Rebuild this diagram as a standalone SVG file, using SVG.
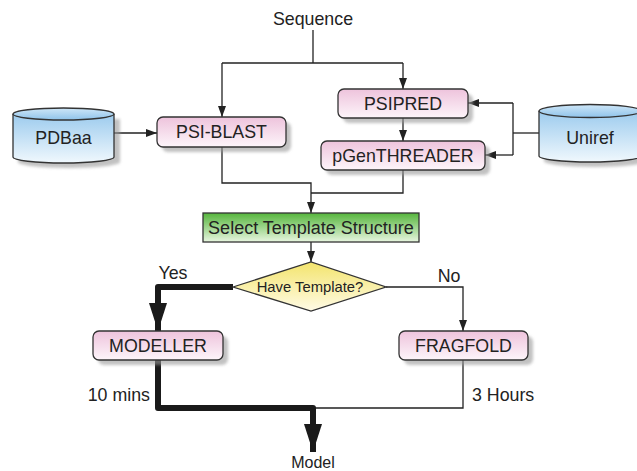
<svg xmlns="http://www.w3.org/2000/svg" width="637" height="471" viewBox="0 0 637 471">
<defs>
<linearGradient id="pink" x1="0" y1="0" x2="0" y2="1"><stop offset="0" stop-color="#eec3dc"/><stop offset="1" stop-color="#fdf5fa"/></linearGradient>
<linearGradient id="green" x1="0" y1="0" x2="0" y2="1"><stop offset="0" stop-color="#55b53c"/><stop offset="1" stop-color="#e8f6e0"/></linearGradient>
<linearGradient id="yellow" x1="0" y1="0" x2="0" y2="1"><stop offset="0" stop-color="#f3e46c"/><stop offset="1" stop-color="#fffbe6"/></linearGradient>
<linearGradient id="blue" x1="0" y1="0" x2="0" y2="1"><stop offset="0" stop-color="#9ccbee"/><stop offset="1" stop-color="#f0f8fd"/></linearGradient>
<linearGradient id="bluetop" x1="0" y1="0" x2="0" y2="1"><stop offset="0" stop-color="#cfe7f8"/><stop offset="1" stop-color="#8fc3ea"/></linearGradient>
<filter id="blur" x="-10%" y="-20%" width="120%" height="140%"><feGaussianBlur stdDeviation="1.5"/></filter>
<marker id="arr" viewBox="0 0 11 8" refX="11" refY="4" markerWidth="11" markerHeight="8" markerUnits="userSpaceOnUse" orient="auto"><path d="M0,0 L11,4 L0,8 z" fill="#222"/></marker>
<marker id="big" viewBox="0 0 28 18" refX="28" refY="9" markerWidth="28" markerHeight="18" markerUnits="userSpaceOnUse" orient="auto"><path d="M0,0 L28,9 L0,18 z" fill="#1a1a1a"/></marker>
</defs>
<style>
text{font-family:"Liberation Sans",Arial,sans-serif;fill:#222;text-anchor:middle}
.lbl{font-size:17.8px}
.box{fill:url(#pink);stroke:#333;stroke-width:1.3}
.shadow{fill:#999;opacity:0.6;filter:url(#blur)}
.cyl{fill:url(#blue);stroke:#333;stroke-width:1.3}
.cyltop{fill:url(#bluetop);stroke:#333;stroke-width:1.3}
.thin{fill:none;stroke:#222;stroke-width:1.3}
.thick{fill:none;stroke:#1a1a1a;stroke-width:6;stroke-linejoin:round}
</style>
<g id="connectors">
<path class="thin" d="M313,30 V63"/>
<path class="thin" d="M222,63 H403"/>
<path class="thin" d="M222,63 V117" marker-end="url(#arr)"/>
<path class="thin" d="M403,63 V89" marker-end="url(#arr)"/>
<path class="thin" d="M114,133 H157" marker-end="url(#arr)"/>
<path class="thin" d="M403,118 V141" marker-end="url(#arr)"/>
<path class="thin" d="M539,133 H513"/>
<path class="thin" d="M513,103 V155"/>
<path class="thin" d="M513,103 H468" marker-end="url(#arr)"/>
<path class="thin" d="M513,155 H485" marker-end="url(#arr)"/>
<path class="thin" d="M222,147 V183 H311 V213" marker-end="url(#arr)"/>
<path class="thin" d="M403,170 V193 H311"/>
<path class="thin" d="M311,242 V262" marker-end="url(#arr)"/>
<path class="thin" d="M386,287 H463 V331" marker-end="url(#arr)"/>
<path class="thin" d="M463,360 V408 H313"/>
<path class="thick" d="M233,287 H158 V331" marker-end="url(#big)"/>
<path class="thick" d="M158,360 V408 H313 V452" marker-end="url(#big)"/>
<text class="lbl" x="173" y="279">Yes</text>
<text class="lbl" x="449" y="282">No</text>
<text class="lbl" x="150" y="401" style="text-anchor:end">10 mins</text>
<text class="lbl" x="472" y="401" style="text-anchor:start">3 Hours</text>
</g>
<g id="sequence"><text class="lbl" x="313" y="25">Sequence</text></g>
<g id="pdbaa">
<path class="shadow" d="M18,119 V162 A51,6 0 0 0 120,162 V119 z"/>
<path class="cyl" d="M13,114 V157 A50.5,6 0 0 0 114,157 V114"/>
<ellipse class="cyltop" cx="63.5" cy="114" rx="50.5" ry="6"/>
<text class="lbl" x="63.5" y="144">PDBaa</text>
</g>
<g id="uniref">
<path class="shadow" d="M544,116 V161 A51,6 0 0 0 646,161 V116 z"/>
<path class="cyl" d="M539,111 V156 A51,6 0 0 0 641,156 V111"/>
<ellipse class="cyltop" cx="590" cy="111" rx="51" ry="6.5"/>
<text class="lbl" x="590" y="144">Uniref</text>
</g>
<g id="psiblast">
<rect class="shadow" x="162" y="122" width="129" height="30" rx="6"/>
<rect class="box" x="157" y="117" width="129" height="30" rx="6"/>
<text class="lbl" x="221.5" y="138">PSI-BLAST</text>
</g>
<g id="psipred">
<rect class="shadow" x="343" y="94" width="130" height="29" rx="6"/>
<rect class="box" x="338" y="89" width="130" height="29" rx="6"/>
<text class="lbl" x="403" y="110">PSIPRED</text>
</g>
<g id="pgenthreader">
<rect class="shadow" x="326" y="146" width="164" height="29" rx="6"/>
<rect class="box" x="321" y="141" width="164" height="29" rx="6"/>
<text class="lbl" x="403" y="162">pGenTHREADER</text>
</g>
<g id="select">
<rect x="203" y="213" width="216" height="29" fill="url(#green)" stroke="#333" stroke-width="1.3"/>
<text x="311" y="234" style="font-size:18px">Select Template Structure</text>
</g>
<g id="decision">
<polygon points="233,287 311,262 386,287 311,311" fill="url(#yellow)" stroke="#333" stroke-width="1.3"/>
<text x="310" y="292" style="font-size:14.8px">Have Template?</text>
</g>
<g id="modeller">
<rect class="shadow" x="98" y="336" width="130" height="29" rx="6"/>
<rect class="box" x="93" y="331" width="130" height="29" rx="6"/>
<text class="lbl" x="158" y="352">MODELLER</text>
</g>
<g id="fragfold">
<rect class="shadow" x="404" y="336" width="129" height="29" rx="6"/>
<rect class="box" x="399" y="331" width="129" height="29" rx="6"/>
<text class="lbl" x="463.5" y="352">FRAGFOLD</text>
</g>
<g id="model"><text x="313" y="468" style="font-size:16px">Model</text></g>
</svg>
